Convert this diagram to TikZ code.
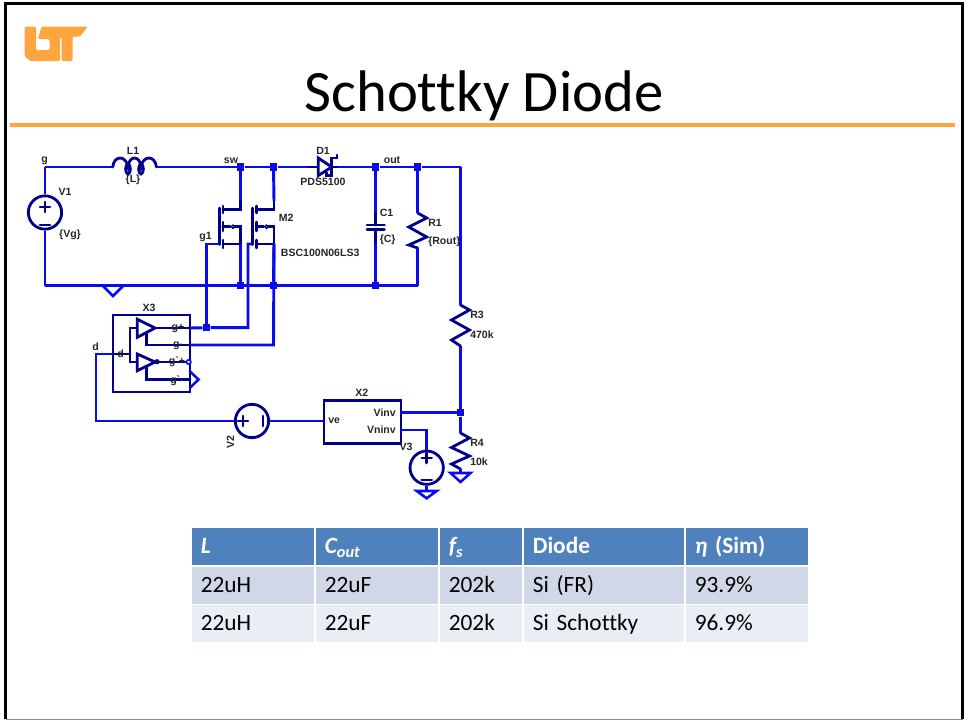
\documentclass[tikz,border=0pt]{standalone}
\usepackage{fontspec}
\setmainfont{Carlito}[Ligatures=NoCommon]
\newfontfamily\labfont{Liberation Sans}
\definecolor{utorange}{HTML}{FFA540}
\definecolor{wireblue}{HTML}{0A0AF0}
\definecolor{partnavy}{HTML}{00008C}
\definecolor{headblue}{HTML}{4F81BD}
\definecolor{rowdark}{HTML}{D0D8E8}
\definecolor{rowlight}{HTML}{E9EDF4}
\tikzset{
  wire/.style={draw=wireblue,line width=2.2pt},
  part/.style={draw=partnavy,line width=2.1pt,line cap=round},
  junc/.style={fill=wireblue,inner sep=0pt,minimum size=5.6pt},
  src/.style={circle,draw=partnavy,line width=2.1pt,inner sep=0pt,minimum size=25pt},
  gnd/.style={draw=wireblue,line width=1.9pt,line join=miter},
  lab/.style={font=\labfont\bfseries\fontsize{7.9}{9}\selectfont,inner sep=0pt,text=black!85},
  cell/.style={anchor=north west,inner sep=0pt,inner xsep=6.4pt,align=left,text width=#1,
    text height=14.4pt,text depth=4pt,minimum height=27.6pt,font=\fontsize{17.5}{20}\selectfont},
  headcell/.style={cell=#1,fill=headblue,text=white,font=\fontsize{17.5}{20}\selectfont\bfseries},
  darkcell/.style={cell=#1,fill=rowdark},
  lightcell/.style={cell=#1,fill=rowlight}
}
\begin{document}
\begin{tikzpicture}[x=0.75pt,y=-0.75pt]
  \useasboundingbox (0,0) rectangle (964,721);
  % slide frame and heading
  \draw[black,line width=2pt] (5.5,719) -- (5.5,3.7) -- (962.5,3.7) -- (962.5,719);
  \draw[black!45,line width=1pt] (5.5,719.5) -- (962.5,719.5);
  \fill[utorange,rounded corners=1pt] (24.5,26.7) -- (36,26.7) -- (36,50) -- (49.5,50) -- (49.5,39) -- (38,39)
    -- (41.5,26.7) -- (87.7,26.7) -- (80,36.5) -- (72.5,36.5) -- (72.5,61) -- (61.7,61) -- (61.7,37) -- (60,37)
    -- (60,61) -- (30,61) -- (24.5,56) -- cycle;
  \node (title) at (484,96) {\fontsize{44}{50}\selectfont Schottky Diode};
  \draw[utorange,line width=3.4pt] (10,125) -- (955,125);

  % top and bottom rail
  \node[junc] (sw)   at (240.5,167) {};
  \node[junc] (swb)  at (273.5,167) {};
  \node[junc] (out)  at (375.7,167) {};
  \node[junc] (outb) at (417.7,167) {};
  \node[junc] (gn1)  at (240.5,285.5) {};
  \node[junc] (gn2)  at (273.5,285.5) {};
  \node[junc] (gn3)  at (375.7,285.5) {};
  \node[junc] (fb)   at (460.5,412.7) {};
  \node[junc] (g1j)  at (206.5,327.7) {};
  \coordinate (gtop) at (45,167);
  \coordinate (gbot) at (45,285.5);
  \coordinate (rbot) at (417.7,285.5);
  \coordinate (otop) at (460.5,167);

  % sources
  \node[src] (v1) at (45,212.5) {};
  \node[src] (v2) at (252,421) {};
  \node[src] (v3) at (426.7,467.7) {};
  \draw[part] (40,207) -- (50,207) (45,202) -- (45,212) (40,225) -- (50,225);
  \draw[part] (243,416) -- (243,426) (238,421) -- (248,421) (263,416) -- (263,426);
  \draw[part] (421.7,458) -- (431.7,458) (426.7,453) -- (426.7,463) (421.7,480) -- (431.7,480);

  % inductor
  \coordinate (l1a) at (112.7,167);
  \coordinate (l1b) at (156.5,167);
  \draw[part,fill=none] (l1a) .. controls (114,155) and (126,155) .. (128,167)
    .. controls (129,155) and (140,155) .. (141,167)
    .. controls (143,155) and (155,155) .. (l1b);
  \draw[part] (128,169) ellipse [x radius=2.4,y radius=5];
  \draw[part] (141,169) ellipse [x radius=2.4,y radius=5];

  % diode
  \coordinate (d1a) at (308,167);
  \coordinate (d1k) at (338,167);
  \draw[part] (d1a) -- (d1k);
  \draw[part,fill=white] (318.3,158) -- (318.3,175.5) -- (331.7,167) -- cycle;
  \draw[part] (337,155) -- (337,158) -- (331.7,158) -- (331.7,175.5) -- (326.3,175.5) -- (326.3,172.5);

  % switches
  \foreach \mname/\mx/\gx in {m1/223/219.3,m2/256.5/252.3} {
    \coordinate (\mname d) at (\mx+17.5,201);
    \coordinate (\mname s) at (\mx+17.5,244);
    \coordinate (\mname g) at (\gx,244);
    \draw[part] (\gx,208) -- (\gx,244.5);
    \draw[part] (\mx,206) -- (\mx,213) (\mx,222) -- (\mx,231) (\mx,240) -- (\mx,248);
    \draw[part] (\mname d) -- (\mx+17.5,209.3) -- (\mx,209.3);
    \draw[part] (\mname s) -- (\mx,244);
    \draw[part] (\mname s) -- (\mx+17.5,226.7) -- (\mx+11,226.7);
    \draw[part,fill=white,line width=1pt] (\mx+10,226.7) circle [radius=1.7];
    \draw[part,line width=2.6pt] (\mx,226.7) -- (\mx+7,226.7);
  }

  % capacitor and resistors
  \coordinate (c1a) at (375.7,212);
  \coordinate (c1b) at (375.7,243);
  \draw[part] (c1a) -- (375.7,225) (367,225) -- (384.5,225) (367,229.5) -- (384.5,229.5) (375.7,229.5) -- (c1b);
  \coordinate (r1a) at (417.7,213);
  \coordinate (r1b) at (417.7,248);
  \draw[part] (r1a) -- ++(9,5) -- ++(-18,9) -- ++(18,10) -- ++(-18,8) -- (r1b);
  \coordinate (r3a) at (460.5,305);
  \coordinate (r3b) at (460.5,346);
  \draw[part] (r3a) -- ++(9,5) -- ++(-18,10) -- ++(18,10) -- ++(-18,10) -- (r3b);
  \coordinate (r4a) at (460.5,433);
  \coordinate (r4b) at (460.5,469);
  \draw[part] (r4a) -- ++(9,5) -- ++(-18,9.5) -- ++(18,8.5) -- ++(-18,8) -- (r4b);

  % driver
  \node[part,outer sep=0pt,minimum width=57.75pt,minimum height=57.75pt,anchor=north west,inner sep=0pt] (x3) at (113,315) {};
  \coordinate (x3d) at (113,354);
  \coordinate (x3a) at (190,328);
  \coordinate (x3b) at (190,345);
  \coordinate (x3c) at (188.7,362);
  \coordinate (x3e) at (190,379.3);
  \draw[part] (x3d) -- (130,354) (137,328) -- (130,328) -- (130,362) -- (137,362);
  \draw[part] (155,328) -- (x3a) (146.7,333) -- (146.7,345) -- (x3b);
  \draw[part] (155,362) -- (x3c) (146.7,367) -- (146.7,379.3) -- (x3e);
  \draw[part,fill=white] (137.3,319.3) -- (137.3,337.3) -- (155,328) -- cycle;
  \draw[part,fill=white] (137.3,354) -- (137.3,370.7) -- (155,362) -- cycle;
  \fill[partnavy] (157,361.7) circle [radius=2.6];
  \draw[gnd,fill=white,line width=1.2pt] (x3c) circle [radius=2.2];
  \draw[gnd] (189.5,371) -- (198.5,379.5) -- (189.5,388.3);

  % error amp
  \node[part,outer sep=0pt,minimum width=57.75pt,minimum height=32pt,anchor=north west,inner sep=0pt] (x2) at (324,400.5) {};
  \coordinate (x2i) at (401,412.7);
  \coordinate (x2n) at (401,430);

  % wiring
  \path[wire]
    (gtop) edge (l1a)
    (gtop) edge (v1)
    (v1) edge (gbot)
    (gbot) edge (rbot)
    (l1b) edge (sw)
    (sw) edge (swb)
    (swb) edge (d1a)
    (d1k) edge (out)
    (out) edge (outb)
    (outb) edge (otop)
    (otop) edge (r3a)
    (r3b) edge (fb)
    (fb) edge (r4a)
    (x2i) edge (fb)
    (sw) edge (m1d)
    (swb) edge (m2d)
    (m1s) edge (gn1)
    (m2s) edge (gn2)
    (out) edge (c1a)
    (c1b) edge (gn3)
    (outb) edge (r1a)
    (r1b) edge (rbot);
  \draw[wire] (m1g) -- (206.5,244) -- (g1j);
  \draw[wire] (x3a) -- (g1j) -- (248,327.7) -- (248,244) -- (m2g);
  \draw[wire] (x3b) -- (273.5,345) -- (m2s);
  \draw[wire] (x3d) -- (96,354) -- (96,421) -- (v2);
  \draw[wire] (v2) -- (324,421);
  \draw[wire] (x2n) -- (426.7,430) -- (v3);
  \draw[wire] (v3) -- (426.7,491);
  \draw[wire] (r4b) -- (460.5,473);

  % grounds
  \draw[gnd] (103,286) -- (113,296) -- (123,286);
  \draw[gnd] (416.7,491) -- (436.7,491) -- (426.7,498.3) -- cycle;
  \draw[gnd] (450.5,473) -- (470.5,473) -- (460.5,482) -- cycle;

  % labels
  \node[lab] (lg) at (44.5,160.5) {g};
  \node[lab] (ll1) at (133,151) {L1};
  \node[lab] (lval) at (133,180) {\{L\}};
  \node[lab] (lsw) at (231,160.5) {sw};
  \node[lab] (lv1) at (65,192) {V1};
  \node[lab] (lvg) at (70,235) {\{Vg\}};
  \node[lab] (lg1) at (205.5,237) {g1};
  \node[lab,anchor=west] (lm2) at (278.5,217.5) {M2};
  \node[lab,anchor=west] (lbsc) at (280.7,252.5) {BSC100N06LS3};
  \node[lab] (ld1) at (323,151) {D1};
  \node[lab] (lpds) at (323,182) {PDS5100};
  \node[lab] (lout) at (392,160.5) {out};
  \node[lab,anchor=west] (lc1) at (379.5,213) {C1};
  \node[lab,anchor=west] (lcv) at (379.5,240) {\{C\}};
  \node[lab,anchor=west] (lr1) at (428,222.7) {R1};
  \node[lab,anchor=west] (lrv) at (428,241.7) {\{Rout\}};
  \node[lab] (lx3) at (149,308) {X3};
  \node[lab] (lgp) at (178,329) {g+};
  \node[lab] (lgm) at (178,345.5) {g-};
  \node[lab] (lgq) at (177,362) {g`+};
  \node[lab] (lgr) at (177,381) {g`-};
  \node[lab] (ldi) at (120.7,354) {d};
  \node[lab] (ldo) at (95.5,347) {d};
  \node[lab,rotate=90] (lv2) at (230.5,441.7) {V2};
  \node[lab] (lx2) at (361.7,392.7) {X2};
  \node[lab,anchor=west] (lve) at (328,421) {ve};
  \node[lab,anchor=east] (lvi) at (396,412.5) {Vinv};
  \node[lab,anchor=east] (lvn) at (396,430) {Vninv};
  \node[lab] (lv3) at (406,447) {V3};
  \node[lab,anchor=west] (lr3) at (470,315) {R3};
  \node[lab,anchor=west] (lr3v) at (470,335) {470k};
  \node[lab,anchor=west] (lr4) at (470,442.5) {R4};
  \node[lab,anchor=west] (lr4v) at (470,462) {10k};

  % table
  \node[headcell=78.7pt]  (h1) at (192,528) {\itshape L};
  \node[headcell=78.7pt]  (h2) at (316,528) {\itshape C\textsubscript{out}};
  \node[headcell=48.7pt]  (h3) at (440,528) {\itshape f\textsubscript{s}};
  \node[headcell=107.2pt] (h4) at (524,528) {Diode};
  \node[headcell=78.7pt]  (h5) at (686,528) {{\itshape η} (Sim)};
  \node[darkcell=78.7pt]  (a1) at (192,567) {22uH};
  \node[darkcell=78.7pt]  (a2) at (316,567) {22uF};
  \node[darkcell=48.7pt]  (a3) at (440,567) {202k};
  \node[darkcell=107.2pt] (a4) at (524,567) {Si (FR)};
  \node[darkcell=78.7pt]  (a5) at (686,567) {93.9\%};
  \node[lightcell=78.7pt] (b1) at (192,605) {22uH};
  \node[lightcell=78.7pt] (b2) at (316,605) {22uF};
  \node[lightcell=48.7pt] (b3) at (440,605) {202k};
  \node[lightcell=107.2pt] (b4) at (524,605) {Si Schottky};
  \node[lightcell=78.7pt] (b5) at (686,605) {96.9\%};
\end{tikzpicture}
\end{document}
